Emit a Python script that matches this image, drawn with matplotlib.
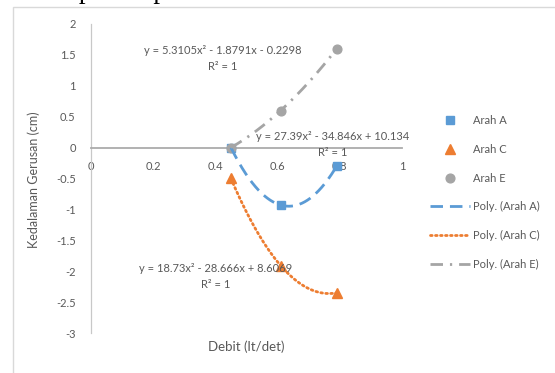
import numpy as np
import matplotlib.pyplot as plt
import matplotlib as mpl
from matplotlib.patches import Rectangle

mpl.rcParams['font.family'] = ['Lato', 'DejaVu Sans']
mpl.rcParams['axes.unicode_minus'] = False

# debit (lt/det) and scour depth (cm) for each direction
debit = [0.45, 0.61, 0.79]
arah_a = [0.0, -0.93, -0.30]
arah_c = [-0.50, -1.91, -2.35]
arah_e = [0.0, 0.60, 1.60]

x_ticks = [0, 0.2, 0.4, 0.6, 0.8, 1]
x_labels = ['0', '0.2', '0.4', '0.6', '0.8', '1']
y_ticks = [2, 1.5, 1, 0.5, 0, -0.5, -1, -1.5, -2, -2.5, -3]
y_labels = ['2', '1.5', '1', '0.5', '0', '-0.5', '-1', '-1.5', '-2', '-2.5', '-3']

blue = '#5B9BD5'
orange = '#ED7D31'
grey = '#A5A5A5'
txt = '#595959'

fig = plt.figure(figsize=(5.55, 3.73), dpi=100)
fig.patch.set_facecolor('white')

# bit of the document text running above the chart
fig.text(17 / 555, 1 + 2 / 373, 'ditampilkan pada Gambar 4.', family='Liberation Serif',
         fontsize=19.5, color='black', ha='left', va='baseline')

# chart frame
fig.patches.append(Rectangle((13 / 555, -0.2), 1.2, 1.2 - 7 / 373 + 0.001, transform=fig.transFigure,
                             fill=False, edgecolor='#D9D9D9', linewidth=1.0))

ax = fig.add_axes((91 / 555, 1 - 333 / 373, 311 / 555, 309 / 373))

ax.plot(debit, arah_a, 's', color=blue, markersize=6.3, label='Arah A', zorder=3)
ax.plot(debit, arah_c, '^', color=orange, markersize=7.3, label='Arah C', zorder=3)
ax.plot(debit, arah_e, 'o', color=grey, markersize=6.3, label='Arah E', zorder=3)

# second order trendlines over the measured range
xs = np.linspace(min(debit), max(debit), 200)
ca = np.polyfit(debit, arah_a, 2)
cc = np.polyfit(debit, arah_c, 2)
ce = np.polyfit(debit, arah_e, 2)
ax.plot(xs, np.polyval(ca, xs), color=blue, lw=2, dashes=(4.5, 2.5), label='Poly. (Arah A)', zorder=4)
ax.plot(xs, np.polyval(cc, xs), color=orange, lw=2, dashes=(0.6, 1.2), dash_capstyle='round',
        label='Poly. (Arah C)', zorder=4)
ax.plot(xs, np.polyval(ce, xs), color=grey, lw=2, dashes=(4.5, 2.5, 0.8, 2.5), label='Poly. (Arah E)', zorder=4)

ax.text(0.424, 1.44, 'y = 5.3105x² - 1.8791x - 0.2298\nR² = 1', ha='center', va='center',
        multialignment='center', fontsize=8, color=txt, linespacing=1.55, zorder=5)
ax.text(0.778, 0.05, 'y = 27.39x² - 34.846x + 10.134\nR² = 1', ha='center', va='center',
        multialignment='center', fontsize=8, color=txt, linespacing=1.55, zorder=5)
ax.text(0.400, -2.08, 'y = 18.73x² - 28.666x + 8.6069\nR² = 1', ha='center', va='center',
        multialignment='center', fontsize=8, color=txt, linespacing=1.55, zorder=5)

ax.set_xlim(0, 1)
ax.set_ylim(-3, 2)
ax.set_xticks(x_ticks)
ax.set_xticklabels(x_labels)
ax.set_yticks(y_ticks)
ax.set_yticklabels(y_labels)
ax.tick_params(length=0, labelsize=8, labelcolor=txt)
ax.tick_params(axis='y', pad=11)
ax.tick_params(axis='x', pad=10)

ax.spines['top'].set_visible(False)
ax.spines['right'].set_visible(False)
ax.spines['bottom'].set_position(('data', 0))
ax.spines['bottom'].set_color('#ABABAB')
ax.spines['bottom'].set_linewidth(1.3)
ax.spines['left'].set_color('#C8C8C8')
ax.spines['left'].set_linewidth(0.9)
ax.set_facecolor('none')

ax.set_ylabel('Kedalaman Gerusan (cm)', fontsize=9, color=txt)
ax.yaxis.set_label_coords((40 - 91) / 311, 0.495)
ax.set_xlabel('Debit (lt/det)', fontsize=9.5, color=txt)
ax.xaxis.set_label_coords(0.5, -0.025)

ax.legend(loc='upper left', bbox_to_anchor=(430 / 555, 1 - 115 / 373), bbox_transform=fig.transFigure,
          frameon=False, fontsize=8, labelcolor=txt, handlelength=3.6, handletextpad=0.3,
          labelspacing=1.6, borderpad=0, borderaxespad=0)

fig.savefig('out.png', dpi=100)
